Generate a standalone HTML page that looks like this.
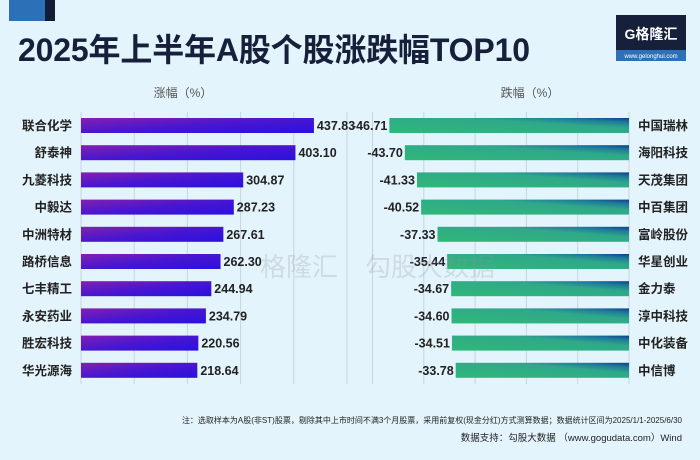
<!DOCTYPE html>
<html><head><meta charset="utf-8">
<style>
body{margin:0;width:700px;height:455px;background:#e4f4fc;overflow:hidden;font-family:"Liberation Sans","Noto Sans CJK SC",sans-serif;}
</style></head>
<body>
<svg width="700" height="455" xmlns="http://www.w3.org/2000/svg">
<defs>
<linearGradient id="gp" x1="0" y1="0" x2="1" y2="1"><stop offset="0" stop-color="#8420b0"/><stop offset="0.5" stop-color="#4816d0"/><stop offset="1" stop-color="#2a10e0"/></linearGradient>
<linearGradient id="gg" x1="0" y1="1" x2="1" y2="0"><stop offset="0" stop-color="#2fb878"/><stop offset="0.65" stop-color="#2fa88a"/><stop offset="0.85" stop-color="#1f7a9a"/><stop offset="1" stop-color="#0b3f8a"/></linearGradient>
</defs>
<rect x="9" y="0" width="36" height="21" fill="#2c70b8"/>
<rect x="45" y="0" width="10" height="21" fill="#141c38"/>
<text x="18" y="61" font-size="32" font-weight="bold" fill="#16203a" textLength="512">2025年上半年A股个股涨跌幅TOP10</text>
<g>
<rect x="616" y="15" width="70" height="35" fill="#16203a"/>
<rect x="616" y="50" width="70" height="11" fill="#2c70b8"/>
<text x="651" y="39" font-size="14" font-weight="bold" fill="#fff" text-anchor="middle">G格隆汇</text>
<text x="651" y="58" font-size="6" fill="#fff" text-anchor="middle">www.gelonghui.com</text>
</g>
<text x="183" y="97" font-size="12" fill="#555" text-anchor="middle">涨幅（%）</text>
<text x="530" y="97" font-size="12" fill="#555" text-anchor="middle">跌幅（%）</text>
<g id="grid"></g><g id="bars"></g>
<g opacity="0.25">
<text x="260" y="276" font-size="26" fill="#8a94a0">格隆汇</text>
<text x="365" y="276" font-size="26" fill="#8a94a0">勾股大数据</text>
</g>
<text x="682" y="423" font-size="8" fill="#222" text-anchor="end">注：选取样本为A股(非ST)股票，剔除其中上市时间不满3个月股票，采用前复权(现金分红)方式测算数据；数据统计区间为2025/1/1-2025/6/30</text>
<text x="682" y="441" font-size="9.5" fill="#222" text-anchor="end">数据支持：勾股大数据 （www.gogudata.com）Wind</text>
</svg>
<script>
const gainNames=["联合化学","舒泰神","九菱科技","中毅达","中洲特材","路桥信息","七丰精工","永安药业","胜宏科技","华光源海"];
const gainValues=[437.83,403.10,304.87,287.23,267.61,262.30,244.94,234.79,220.56,218.64];
const lossNames=["中国瑞林","海阳科技","天茂集团","中百集团","富岭股份","华星创业","金力泰","淳中科技","中化装备","中信博"];
const lossValues=[-46.71,-43.70,-41.33,-40.52,-37.33,-35.44,-34.67,-34.60,-34.51,-33.78];
const gainTicks=[0,100,200,300,400,500];
const lossTicks=[-50,-40,-30,-20,-10,0];
const NS="http://www.w3.org/2000/svg";
const xL=v=>81+v*0.532;
const xR=v=>629+v*5.13;
const yRow=i=>125.5+i*27.2;
function mk(tag,attrs,parent,txt){const e=document.createElementNS(NS,tag);for(const k in attrs)e.setAttribute(k,attrs[k]);if(txt!==undefined)e.textContent=txt;parent.appendChild(e);return e;}
const grid=document.getElementById('grid'),bars=document.getElementById('bars');
gainTicks.forEach(t=>{const l=mk('line',{x1:xL(t),x2:xL(t),y1:112,y2:384,stroke:'#c8d4de','stroke-width':1},grid);

});
lossTicks.forEach(t=>{const l=mk('line',{x1:xR(t),x2:xR(t),y1:112,y2:384,stroke:'#c8d4de','stroke-width':1},grid);

});
gainValues.forEach((v,i)=>{const y=yRow(i);
const r=mk('rect',{x:xL(0),y:y-7.5,width:xL(v)-xL(0),height:15,fill:'url(#gp)'},bars);


const n=mk('text',{x:72,y:y+4.5,'font-size':12.5,'font-weight':'bold',fill:'#222','text-anchor':'end'},bars,gainNames[i]);


const t=mk('text',{x:xL(v)+3,y:y+4.5,'font-size':12.5,'font-weight':'bold',fill:'#222'},bars,v.toFixed(2));

});
lossValues.forEach((v,i)=>{const y=yRow(i);
const r=mk('rect',{x:xR(v),y:y-7.5,width:xR(0)-xR(v),height:15,fill:'url(#gg)'},bars);


const n=mk('text',{x:638,y:y+4.5,'font-size':12.5,'font-weight':'bold',fill:'#222'},bars,lossNames[i]);


const t=mk('text',{x:xR(v)-2,y:y+4.5,'font-size':12.5,'font-weight':'bold',fill:'#222','text-anchor':'end'},bars,v.toFixed(2));

});
</script>
</body></html>
